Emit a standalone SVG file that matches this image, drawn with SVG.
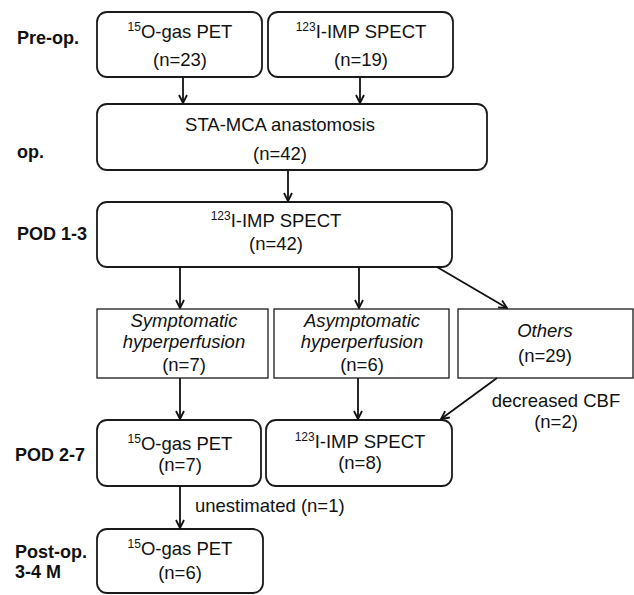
<svg xmlns="http://www.w3.org/2000/svg" width="634" height="595" viewBox="0 0 634 595">
<style>
text{font-family:"Liberation Sans",Arial,sans-serif;font-size:18.5px;fill:#111}
.lbl{font-weight:bold;font-size:18px}
.c{text-anchor:middle}
.i{font-style:italic}
.rb{fill:#fff;stroke:#1a1a1a;stroke-width:1.8}
.sb{fill:#fff;stroke:#1a1a1a;stroke-width:1.3}
.sup{font-size:12px}
#connectors line{stroke:#111;stroke-width:1.8;fill:none;marker-end:url(#ah)}
</style>
<defs>
<marker id="ah" viewBox="0 0 10 10" refX="9" refY="5" markerWidth="10" markerHeight="10" markerUnits="userSpaceOnUse" orient="auto">
<path d="M1,1 L9,5 L1,9" fill="none" stroke="#111" stroke-width="1.8"/>
</marker>
</defs>

<g id="labels">
<text class="lbl" x="17" y="44">Pre-op.</text>
<text class="lbl" x="17" y="158">op.</text>
<text class="lbl" x="17" y="240">POD 1-3</text>
<text class="lbl" x="15" y="461">POD 2-7</text>
<text class="lbl" x="15" y="558">Post-op.</text>
<text class="lbl" x="15" y="578">3-4 M</text>
</g>

<g id="pre-pet">
<rect class="rb" x="97" y="12" width="165" height="65" rx="10"/>
<text class="c" x="180" y="38"><tspan class="sup" dy="-7">15</tspan><tspan dy="7">O-gas PET</tspan></text>
<text class="c" x="180" y="66">(n=23)</text>
</g>
<g id="pre-spect">
<rect class="rb" x="268" y="12" width="185" height="65" rx="10"/>
<text class="c" x="361" y="38"><tspan class="sup" dy="-7">123</tspan><tspan dy="7">I-IMP SPECT</tspan></text>
<text class="c" x="361" y="66">(n=19)</text>
</g>
<g id="op">
<rect class="rb" x="97" y="104" width="390" height="66" rx="10"/>
<text class="c" x="280" y="131">STA-MCA anastomosis</text>
<text class="c" x="280" y="160">(n=42)</text>
</g>
<g id="pod13-spect">
<rect class="rb" x="97" y="202" width="355" height="65" rx="10"/>
<text class="c" x="276" y="227"><tspan class="sup" dy="-7">123</tspan><tspan dy="7">I-IMP SPECT</tspan></text>
<text class="c" x="276" y="250">(n=42)</text>
</g>
<g id="symptomatic">
<rect class="sb" x="97" y="309" width="171" height="69"/>
<text class="c i" x="184" y="327">Symptomatic</text>
<text class="c i" x="184" y="348">hyperperfusion</text>
<text class="c" x="184" y="371">(n=7)</text>
</g>
<g id="asymptomatic">
<rect class="sb" x="274" y="309" width="175" height="69"/>
<text class="c i" x="362" y="327">Asymptomatic</text>
<text class="c i" x="362" y="348">hyperperfusion</text>
<text class="c" x="362" y="371">(n=6)</text>
</g>
<g id="others">
<rect class="sb" x="458" y="309" width="175" height="69"/>
<text class="c i" x="545" y="337">Others</text>
<text class="c" x="545" y="362">(n=29)</text>
</g>
<g id="pod27-pet">
<rect class="rb" x="97" y="420" width="164" height="66" rx="10"/>
<text class="c" x="180" y="450"><tspan class="sup" dy="-7">15</tspan><tspan dy="7">O-gas PET</tspan></text>
<text class="c" x="180" y="471">(n=7)</text>
</g>
<g id="pod27-spect">
<rect class="rb" x="266" y="420" width="186" height="66" rx="10"/>
<text class="c" x="360" y="448"><tspan class="sup" dy="-7">123</tspan><tspan dy="7">I-IMP SPECT</tspan></text>
<text class="c" x="360" y="469">(n=8)</text>
</g>
<g id="postop-pet">
<rect class="rb" x="97" y="529" width="166" height="64" rx="10"/>
<text class="c" x="180" y="555"><tspan class="sup" dy="-7">15</tspan><tspan dy="7">O-gas PET</tspan></text>
<text class="c" x="180" y="579">(n=6)</text>
</g>

<g id="connectors">
<line x1="183" y1="77" x2="183" y2="103"/>
<line x1="360" y1="77" x2="360" y2="103"/>
<line x1="288" y1="170" x2="288" y2="201"/>
<line x1="180" y1="267" x2="180" y2="308"/>
<line x1="359" y1="267" x2="359" y2="308"/>
<line x1="437" y1="267" x2="507" y2="308"/>
<line x1="180" y1="378" x2="180" y2="419"/>
<line x1="358" y1="378" x2="358" y2="419"/>
<line x1="497" y1="378" x2="441" y2="419"/>
<line x1="180" y1="486" x2="180" y2="528"/>
</g>
<g id="connector-labels">
<text x="195" y="512">unestimated (n=1)</text>
<text class="c" x="556" y="407">decreased CBF</text>
<text class="c" x="556" y="428">(n=2)</text>
</g>
</svg>
